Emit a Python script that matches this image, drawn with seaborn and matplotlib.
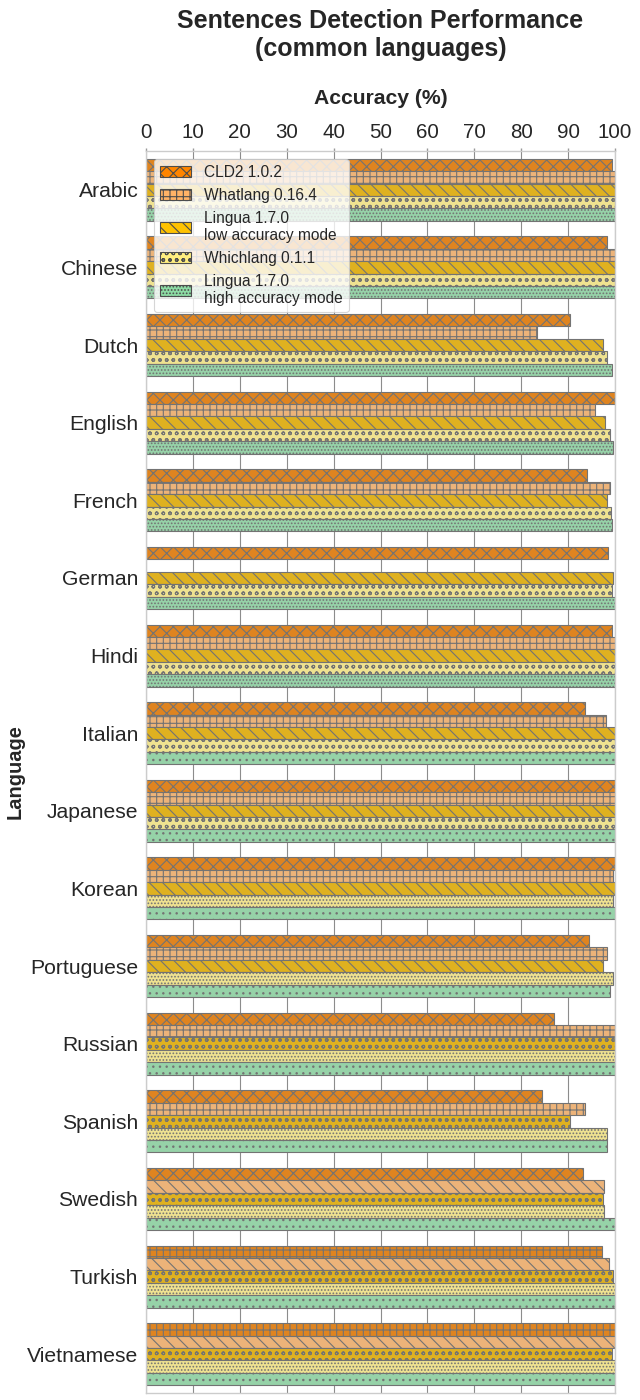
import numpy as np
import pandas as pd
import matplotlib
matplotlib.use("Agg")
import matplotlib.pyplot as plt
import seaborn as sns
from matplotlib.patches import Patch

languages = ["Arabic", "Chinese", "Dutch", "English", "French", "German", "Hindi",
             "Italian", "Japanese", "Korean", "Portuguese", "Russian", "Spanish",
             "Swedish", "Turkish", "Vietnamese"]
detectors = ["CLD2 1.0.2", "Whatlang 0.16.4", "Lingua 1.7.0\nlow accuracy mode",
             "Whichlang 0.1.1", "Lingua 1.7.0\nhigh accuracy mode"]

cld2 = [99.4, 98.2, 90.3, 99.9, 94.1, 98.6, 99.4, 93.7, 100.0, 100.0, 94.4, 87.1, 84.5, 93.2, 97.3, 99.9]
whatlang = [100.0, 100.0, 83.3, 95.8, 98.9, np.nan, 100.0, 98.0, 100.0, 99.6, 98.4, 100.0, 93.7, 97.7, 98.8, 100.0]
lingua_low = [100.0, 100.0, 97.4, 97.9, 98.2, 99.6, 99.9, 99.9, 100.0, 100.0, 97.4, 100.0, 90.5, 97.5, 99.6, 99.4]
whichlang = [100.0, 100.0, 98.2, 99.0, 99.2, 99.4, 100.0, 99.9, 99.9, 99.6, 99.6, 100.0, 98.4, 97.7, 100.0, 99.9]
lingua_high = [100.0, 100.0, 99.3, 99.6, 99.4, 99.9, 99.9, 99.9, 100.0, 99.9, 99.0, 100.0, 98.4, 99.9, 100.0, 99.9]

x_ticks = [0, 10, 20, 30, 40, 50, 60, 70, 80, 90, 100]

colors = ["#ff8500", "#ffb366", "#ffc200", "#ffee80", "#8cdca4"]
legend_hatches = ["xx", "++", "\\\\", "oo", "...."]
bar_hatches = ["xx", "++", "\\\\", "oo", "....", ".."]

series = [cld2, whatlang, lingua_low, whichlang, lingua_high]
df = pd.DataFrame({
    "Language": np.tile(languages, len(detectors)),
    "Detector": np.repeat(detectors, len(languages)),
    "Accuracy": np.concatenate(series),
})

sns.set_theme(style="whitegrid")
plt.rcParams["font.family"] = ["Liberation Sans", "DejaVu Sans"]

fig = plt.figure(figsize=(8, 17.5), dpi=80)
ax = fig.add_axes([146 / 640, 7 / 1400, 469 / 640, 1242 / 1400])

sns.barplot(data=df, x="Accuracy", y="Language", hue="Detector",
            hue_order=detectors, order=languages, palette=colors,
            orient="h", edgecolor="0.45", linewidth=1, legend=False, ax=ax)

for i, p in enumerate(ax.patches):
    p.set_hatch(bar_hatches[min(i // 14, len(bar_hatches) - 1)])

ax.set_xlim(0, 100)
ax.set_xticks(x_ticks)
ax.xaxis.tick_top()
ax.xaxis.set_label_position("top")
ax.tick_params(axis="x", labelsize=18.5, length=3, pad=5.5, color="0.6")
ax.tick_params(axis="y", labelsize=19, length=0, pad=7)
ax.grid(axis="x", color="0.55", linewidth=1)
ax.set_axisbelow(True)

ax.set_xlabel("Accuracy (%)", fontsize=19, fontweight="bold", labelpad=17)
ax.set_ylabel("Language", fontsize=18, fontweight="bold", labelpad=2)
ax.set_title("Sentences Detection Performance\n(common languages)",
             fontsize=22.5, fontweight="bold", pad=29.5)

handles = [Patch(facecolor=c, edgecolor="0.3", hatch=h, label=l)
           for c, h, l in zip(colors, legend_hatches, detectors)]
ax.legend(handles=handles, loc="upper left", fontsize=14,
          handlelength=2.0, handleheight=0.7, framealpha=0.8)

fig.savefig("out.png", dpi=80)
